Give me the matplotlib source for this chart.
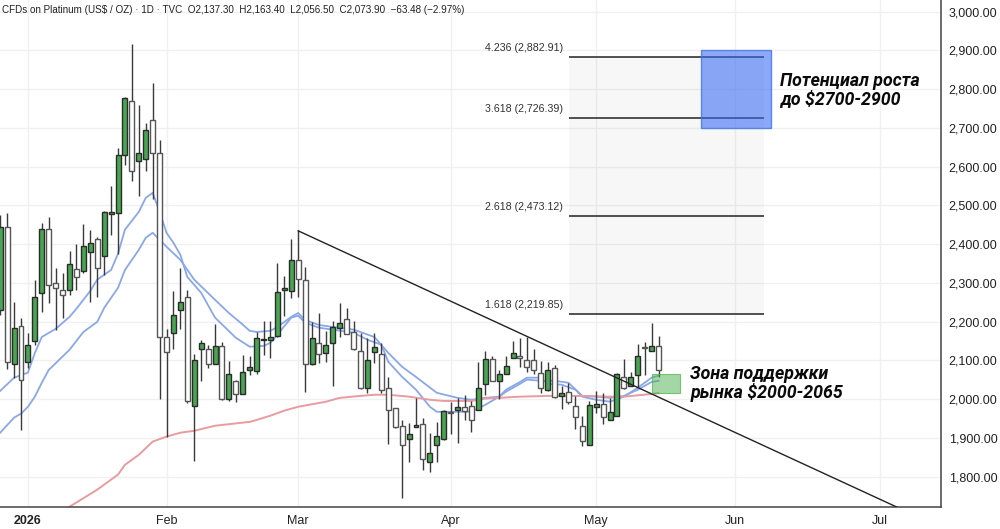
import matplotlib
matplotlib.use("Agg")
import matplotlib.pyplot as plt
from matplotlib.patches import Rectangle

plt.rcParams['font.family'] = ['Liberation Sans', 'DejaVu Sans']

# Daily candles, first candle is 24 sessions before the first February session
opens = [2230,2444,2091,2189,2096,2150,2274,2439,2300,2282,2282,2336,2331,2380,2413,2369,2478,2480,2630,2769,2615,2620,2720,2635,
         2161,2171,2230,2264,1982,2130,2130,2091,2137,2001,2047,2013,2075,2073,2152,2153,2163,2282,2279,2359,2308,2091,2145,2119,2145,
         2184,2207,2173,2124,2029,2122,2117,2029,1977,1931,1897,1929,1936,1838,1882,1897,1967,1972,1980,1983,1972,2039,2104,2047,2065,
         2106,2112,2101,2101,2068,2024,2081,2008,2019,1983,1931,1882,1980,1988,1946,1957,2057,2034,2063,2135,2125,2137.30]
highs = [2475,2480,2251,2210,2171,2308,2455,2470,2339,2326,2382,2400,2452,2437,2419,2485,2550,2648,2780,2916,2759,2713,2816,2669,
         2181,2279,2339,2282,2117,2153,2140,2194,2148,2099,2050,2114,2112,2173,2202,2202,2351,2318,2413,2437,2341,2199,2222,2176,2202,
         2248,2235,2202,2171,2158,2171,2145,2057,1977,1946,1939,2003,1952,1913,1941,1972,1993,2003,2011,1995,2096,2124,2112,2075,2112,
         2150,2158,2161,2130,2099,2096,2088,2034,2042,2008,1957,1995,2021,2016,2003,2068,2104,2070,2142,2148,2197,2163.40]
lows = [2217,2078,2055,1921,2080,2140,2225,2248,2179,2210,2269,2282,2326,2251,2264,2320,2424,2375,2604,2563,2524,2589,2517,2000,
        1903,2130,2181,1990,1841,2047,2080,2091,1998,1995,1993,2013,2062,2065,2114,2106,2160,2215,2261,2264,2019,2088,2093,2096,2034,
        2160,2168,2127,2026,2016,2093,2016,1884,1926,1745,1838,1929,1817,1812,1838,1895,1910,1887,1945,1915,1972,2011,2047,2001,2065,
        2106,2083,2070,2065,2016,2021,2003,1975,1988,1923,1879,1882,1964,1936,1946,1955,2026,2034,2032,2063,2125,2056.50]
closes = [2444,2096,2184,2050,2140,2264,2439,2295,2287,2269,2349,2315,2395,2403,2339,2483,2483,2630,2777,2589,2635,2695,2635,2161,
          2122,2217,2251,1995,2101,2145,2091,2137,2001,2065,2013,2070,2083,2158,2156,2161,2277,2287,2359,2310,2091,2158,2117,2140,2186,
          2197,2168,2130,2029,2101,2135,2024,1972,1928,1882,1910,1932,1846,1861,1905,1970,1964,1980,1970,1946,2029,2104,2047,2065,2086,
          2119,2106,2083,2075,2029,2075,2006,2016,1993,1954,1892,1985,1988,1954,1967,2065,2029,2057,2112,2132,2137,2073.90]
first_session = -24

# Moving averages: session, price
fast_k = [-24,-22,-20,-19,-18,-16,-14,-13,-11,-10,-8,-7,-6,-4,-3,-2,-1,0,1,2,3,5,7,10,12,14,15,16,18,19,20,22,24,27,29,31,32,34,36,38,39,42,44,46,48,49,51,52,54,55,57,59,60,62,64,66,68,70,71]
fast_v = [2021,2055,2068,2119,2160,2181,2212,2233,2279,2308,2333,2375,2437,2483,2519,2532,2483,2429,2403,2372,2315,2274,2210,2158,2135,2137,2145,2166,2210,2215,2197,2184,2179,2171,2153,2140,2096,2057,2024,1980,1967,1967,1967,1985,2006,2024,2044,2055,2055,2039,2037,2024,2006,1998,1993,2006,2029,2055,2060]
slow_k = [-24,-22,-21,-20,-19,-18,-17,-14,-12,-10,-9,-7,-6,-4,-3,-2,-1,0,2,4,7,9,11,12,13,15,16,18,19,20,22,24,27,30,32,34,36,39,42,44,46,48,49,51,52,54,56,58,60,62,64,66,68,70,71]
slow_v = [1913,1952,1962,1980,2006,2042,2075,2127,2173,2199,2235,2287,2333,2385,2416,2429,2411,2393,2359,2308,2256,2222,2192,2176,2173,2176,2186,2212,2222,2204,2191,2186,2179,2160,2119,2083,2057,2016,2003,1998,2003,2006,2019,2039,2050,2047,2047,2042,2008,2006,2003,2008,2024,2044,2047]
long_k = [-14,-10,-7,-6,-4,-2,0,2,4,7,12,13,15,17,19,23,25,28,30,32,35,38,40,44,46,51,55,60,64,66,70,71]
long_v = [1722,1766,1805,1830,1856,1890,1903,1913,1918,1931,1941,1946,1957,1970,1980,1993,2003,2008,2011,2011,2006,1998,1995,1995,2001,2006,2008,2008,2006,2006,2013,2015]

# Trend line
trend_k = [19, 105.4]
trend_v = [2434, 1721]

# Fibonacci extension
fib_ratio = ['1.618', '2.618', '3.618', '4.236']
fib_price = [2219.85, 2473.12, 2726.39, 2882.91]
fib_k = [58.1, 86.2]

# Target and support zones
target_zone = [77.1, 87.2, 2700, 2900]
support_zone = [70.1, 74.1, 2015, 2065]

price_ticks = [1800,1900,2000,2100,2200,2300,2400,2500,2600,2700,2800,2900,3000]
month_k = [-20, 0, 19, 41, 62, 82, 103]
month_names = ['2026', 'Feb', 'Mar', 'Apr', 'May', 'Jun', 'Jul']

title = 'CFDs on Platinum (US$ / OZ) · 1D · TVC  O2,137.30  H2,163.40  L2,056.50  C2,073.90  −63.48 (−2.97%)'

fig = plt.figure(figsize=(10, 5.29), dpi=100)
ax = fig.add_axes([0, 22/529, 0.941, 507/529])
ax.set_xlim(-24.03, 111.76)
ax.set_ylim(1721.3, 3029.7)

ax.set_axisbelow(True)
ax.grid(True, color='#f0f0f0', lw=1)
ax.set_yticks(price_ticks)
ax.set_yticklabels([f'{p:,.2f}' for p in price_ticks])
ax.yaxis.tick_right()
ax.set_xticks(month_k)
ax.set_xticklabels(month_names)
ax.tick_params(length=0, labelsize=9, colors='#222222')
ax.tick_params(axis='y', pad=5.5)
ax.tick_params(axis='x', pad=6)
ax.get_xticklabels()[0].set_fontweight('bold')
for s in ('top', 'left'):
    ax.spines[s].set_visible(False)
for s in ('right', 'bottom'):
    ax.spines[s].set_color('#444444')
    ax.spines[s].set_linewidth(1.1)

# Fibonacci band
ax.add_patch(Rectangle((fib_k[0], fib_price[0]), fib_k[1]-fib_k[0], fib_price[-1]-fib_price[0],
                       facecolor=(0, 0, 0, 0.032), edgecolor='none', zorder=1))

# Moving averages
ax.plot(fast_k, fast_v, color='#8aa8e8', lw=1.3, zorder=2)
ax.plot(slow_k, slow_v, color='#8aa8e8', lw=1.3, zorder=2)
ax.plot(long_k, long_v, color='#e89ca0', lw=1.4, zorder=2)

# Candles
for i, (o, h, l, c) in enumerate(zip(opens, highs, lows, closes)):
    k = first_session + i
    up = c >= o
    ax.vlines(k, l, h, color='#3a3a3a', lw=1.0, zorder=3)
    ax.add_patch(Rectangle((k-0.36, min(o, c)), 0.72, abs(c-o),
                           facecolor='#4aa553' if up else 'white',
                           edgecolor='#2b2b2b' if up else '#555555',
                           lw=1.0, zorder=4))

# Fibonacci levels
for r, p in zip(fib_ratio, fib_price):
    ax.plot(fib_k, [p, p], color='#222222', lw=1.1, zorder=5, solid_capstyle='butt')
    ax.text(fib_k[0]-0.9, p+9, f'{r} ({p:,.2f})', ha='right', va='bottom', fontsize=7.7, color='#333333', zorder=6)

ax.plot(trend_k, trend_v, color='#222222', lw=1.0, zorder=5, clip_on=True)

ax.add_patch(Rectangle((target_zone[0], target_zone[2]), target_zone[1]-target_zone[0], target_zone[3]-target_zone[2],
                       facecolor=(0.22, 0.42, 0.96, 0.58), edgecolor=(0.25, 0.45, 0.9, 0.8), lw=1, zorder=6))
ax.add_patch(Rectangle((support_zone[0], support_zone[2]), support_zone[1]-support_zone[0], support_zone[3]-support_zone[2],
                       facecolor=(0.30, 0.69, 0.31, 0.5), edgecolor=(0.30, 0.69, 0.31, 0.7), lw=0.8, zorder=6))

ax.text(88.5, 2798, 'Потенциал роста\nдо $2700-2900', fontsize=12.8, fontweight='bold', style='italic',
        family=['Roboto', 'DejaVu Sans'], color='#0a0a0a', va='center', ha='left', linespacing=1.0, parse_math=False, zorder=7)
ax.text(75.6, 2040, 'Зона поддержки\nрынка $2000-2065', fontsize=12.8, fontweight='bold', style='italic',
        family=['Roboto', 'DejaVu Sans'], color='#0a0a0a', va='center', ha='left', linespacing=1.0, parse_math=False, zorder=7)

fig.text(0.002, 1-10/529, title, fontsize=7.15, color='#222222', va='center', ha='left', parse_math=False)

fig.savefig('out.png', dpi=100)
